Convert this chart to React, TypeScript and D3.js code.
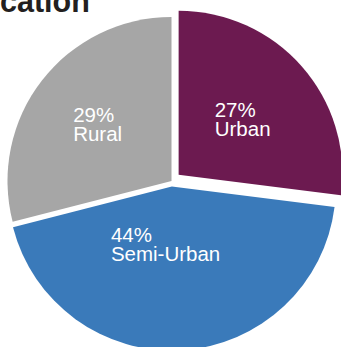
import React, { useEffect, useRef } from "react";
import * as d3 from "d3";

// ---- data ----
const categories = ["Urban", "Semi-Urban", "Rural"];
const shares = [27, 44, 29];
const titleText = "cation";

// ---- styling / layout (not data) ----
const W = 341;
const H = 347;
const colors = ["#6C1A50", "#3A7ABA", "#A6A6A6"];
const explode = [9.5, 5.5, 0];
const labelDist = [0.57, 0.395, 0.57];
const labelNudgeX = [1, -10, 0];
const labelNudgeY = [0, -1.5, 0];
const R = 164;
const CX = 171.5;
const CY = 181;

export default function App() {
  const ref = useRef<SVGSVGElement | null>(null);

  useEffect(() => {
    const svg = d3.select(ref.current);
    svg.selectAll("*").remove();

    const data = categories.map((c, i) => ({ name: c, value: shares[i], i }));
    const pie = d3
      .pie<any>()
      .sort(null)
      .value((d: any) => d.value)
      .startAngle(0)
      .endAngle(2 * Math.PI);
    const arcs = pie(data);
    const arc = d3.arc<any>().innerRadius(0).outerRadius(R);

    const g = svg.append("g").attr("transform", `translate(${CX},${CY})`);

    g.selectAll("path.slice")
      .data(arcs)
      .join("path")
      .attr("class", "slice")
      .attr("d", arc as any)
      .attr("fill", (d: any) => colors[d.data.i])
      .attr("transform", (d: any) => {
        const mid = (d.startAngle + d.endAngle) / 2;
        const e = explode[d.data.i];
        return `translate(${Math.sin(mid) * e},${-Math.cos(mid) * e})`;
      });

    const labels = g
      .selectAll("g.lbl")
      .data(arcs)
      .join("g")
      .attr("class", "lbl");

    labels.each(function (d: any) {
      const mid = (d.startAngle + d.endAngle) / 2;
      const r = labelDist[d.data.i] * R;
      const px = Math.sin(mid) * r + labelNudgeX[d.data.i];
      const py = -Math.cos(mid) * r + labelNudgeY[d.data.i];
      const grp = d3.select(this);
      const t = grp
        .append("text")
        .attr("fill", "#ffffff")
        .attr("font-family", "'Liberation Sans', Arial, Helvetica, sans-serif")
        .attr("font-size", 20.5)
        .attr("text-anchor", "start");
      t.append("tspan").attr("x", 0).attr("y", 0).text(`${d.data.value}%`);
      t.append("tspan").attr("x", 0).attr("y", 19).text(d.data.name);
      const bb = (t.node() as SVGTextElement).getBBox();
      grp.attr(
        "transform",
        `translate(${px - bb.x - bb.width / 2},${py - bb.y - bb.height / 2})`
      );
    });

    svg
      .append("text")
      .attr("x", 0)
      .attr("y", 12)
      .attr("fill", "#231F20")
      .attr("font-family", "'Liberation Sans', Arial, Helvetica, sans-serif")
      .attr("font-weight", "bold")
      .attr("font-size", 30.5)
      .text(titleText);
  }, []);

  return (
    <svg
      ref={ref}
      width={W}
      height={H}
      style={{ position: "absolute", left: 0, top: 0, background: "#ffffff" }}
    />
  );
}
